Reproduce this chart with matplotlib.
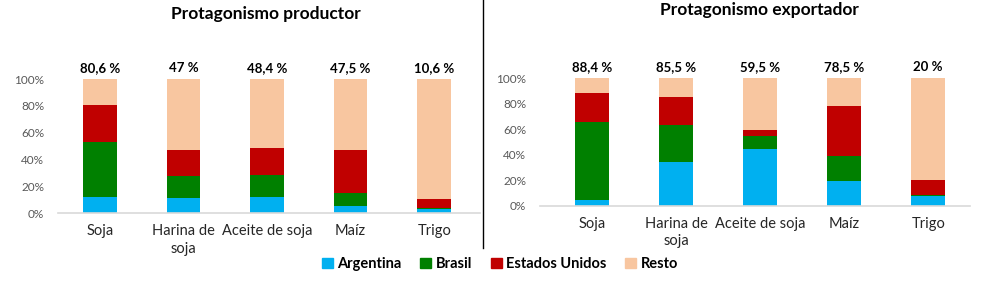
import numpy as np
import matplotlib
matplotlib.use("Agg")
import matplotlib.pyplot as plt
from matplotlib.patches import Patch
from matplotlib.ticker import PercentFormatter

plt.rcParams['font.family'] = ['Lato', 'DejaVu Sans']

# Datos (porcentajes, acumulados por país)
productos = ["Soja", "Harina de\nsoja", "Aceite de soja", "Maíz", "Trigo"]
paises = ["Argentina", "Brasil", "Estados Unidos", "Resto"]
colores = ["#00B0F0", "#008000", "#C00000", "#F8C6A0"]

prod_argentina = [11.7, 11.2, 11.7, 5.0, 3.2]
prod_brasil = [41.6, 16.3, 17.1, 10.0, 0.5]
prod_eeuu = [27.3, 19.5, 19.6, 32.5, 6.9]
prod_total = ["80,6 %", "47 %", "48,4 %", "47,5 %", "10,6 %"]

exp_argentina = [4.5, 34.0, 44.5, 19.4, 7.6]
exp_brasil = [61.5, 29.4, 10.5, 19.3, 1.0]
exp_eeuu = [22.4, 22.1, 4.5, 39.8, 11.4]
exp_total = ["88,4 %", "85,5 %", "59,5 %", "78,5 %", "20 %"]


def dibujar(ax, arg, bra, usa, etiquetas, titulo, title_x, title_y):
    x = np.arange(len(productos))
    arg = np.array(arg)
    bra = np.array(bra)
    usa = np.array(usa)
    resto = 100 - arg - bra - usa
    base = np.zeros(len(productos))
    for serie, color in zip([arg, bra, usa, resto], colores):
        ax.bar(x, serie, 0.4, bottom=base, color=color, zorder=2)
        base = base + serie
    for xi, txt in zip(x, etiquetas):
        ax.text(xi, 104, txt, ha='center', va='bottom', fontsize=9.5,
                fontweight='bold', color='black')
    ax.set_ylim(0, 100)
    ax.set_yticks([0, 20, 40, 60, 80, 100])
    ax.yaxis.set_major_formatter(PercentFormatter(decimals=0))
    ax.set_xticks(x)
    ax.set_xticklabels(productos, fontsize=10.5, color='#262626', linespacing=1.3)
    ax.tick_params(axis='y', labelsize=8.5, colors='#595959', length=0, pad=10)
    ax.tick_params(axis='x', length=0, pad=8)
    for s in ['top', 'right', 'left']:
        ax.spines[s].set_visible(False)
    ax.spines['bottom'].set_color('#D9D9D9')
    ax.spines['bottom'].set_linewidth(1.2)
    ax.figure.text(title_x, title_y, titulo, ha='center', va='center',
                   fontsize=12.5, fontweight='bold', color='black')


fig = plt.figure(figsize=(9.84, 2.88), dpi=100)
ax1 = fig.add_axes([0.059, 0.260, 0.429, 0.465])
ax1.set_xlim(-0.5, 4.55)
ax2 = fig.add_axes([0.549, 0.286, 0.437, 0.442])
ax2.set_xlim(-0.62, 4.5)

dibujar(ax1, prod_argentina, prod_brasil, prod_eeuu, prod_total,
        "Protagonismo productor", 0.27, 0.95)
dibujar(ax2, exp_argentina, exp_brasil, exp_eeuu, exp_total,
        "Protagonismo exportador", 0.772, 0.965)

# línea divisoria
fig.add_artist(plt.Line2D([0.491, 0.491], [0.14, 1.0], color='black', lw=1))

handles = [Patch(color=c) for c in colores]
fig.legend(handles, paises, loc='center', bbox_to_anchor=(0.508, 0.083), ncol=4,
           frameon=False, handlelength=0.75, handleheight=0.75, handletextpad=0.3,
           columnspacing=1.3, prop={'weight': 'bold', 'size': 10.5})

fig.savefig("out.png", dpi=100)
